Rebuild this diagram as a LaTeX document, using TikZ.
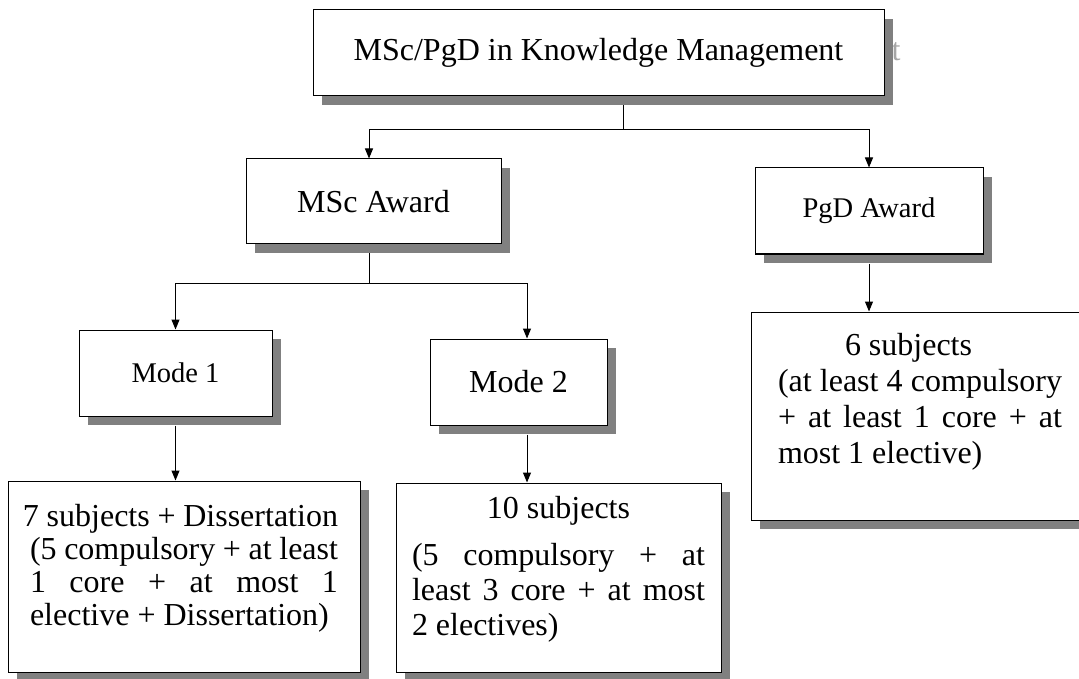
\documentclass[tikz,border=0pt]{standalone}
\usepackage{fontspec}
\setmainfont{Liberation Serif}
\usepackage{tikz}
\usetikzlibrary{arrows.meta,shadows}

\definecolor{shadowgray}{HTML}{808080}
\definecolor{ghostgray}{HTML}{A6A6A6}

\begin{document}
\begin{tikzpicture}[x=1pt,y=-1pt,
  box/.style={draw=black,line width=1pt,fill=white,inner sep=0pt,
    drop shadow={shadow xshift=9pt,shadow yshift=-9pt,opacity=1,fill=shadowgray}},
  big/.style={font=\fontsize{32}{35}\selectfont},
  small/.style={font=\fontsize{28.5}{32}\selectfont},
  link/.style={line width=1pt},
  arr/.style={link,-{Triangle[length=10pt,width=8pt]}}]
\useasboundingbox (0,0) rectangle (1079,679);

% stray letter behind the title box
\node[big,text=ghostgray,inner sep=0pt] (ghost) at (896,52) {t};

% Programme
\node[box,big,minimum width=571,minimum height=86] (title) at (598.5,53) {MSc/PgD in Knowledge Management};

% Awards
\node[box,big,minimum width=255,minimum height=85] (msc) at (373.5,201.5) {MSc Award};
\node[box,small,minimum width=228,minimum height=86] (pgd) at (869,211) {PgD Award};

% Modes of the MSc
\node[box,small,minimum width=193,minimum height=86] (mode1) at (175.5,373) {Mode 1};
\node[box,big,minimum width=177,minimum height=86] (mode2) at (518.5,382) {Mode 2};

% Subjects
\node[box,font=\fontsize{32}{33}\selectfont,minimum width=352] (subj7) at (184,576.5)
  {\parbox[c][191pt][t]{308pt}{\vspace*{22.5pt}%
   \hspace*{-7pt}\strut 7 subjects + Dissertation\\
   \makebox[\linewidth][s]{(5 compulsory + at least}\\
   \makebox[\linewidth][s]{1 core + at most 1}\\
   elective + Dissertation)}};
\node[box,big,minimum width=325] (subj10) at (558.5,577.5)
  {\parbox[c][189pt][t]{293pt}{\vspace*{10.5pt}%
   \makebox[\linewidth][c]{\strut 10 subjects}\\[12pt]
   \makebox[\linewidth][s]{(5 compulsory + at}\\
   \makebox[\linewidth][s]{least 3 core + at most}\\
   2 electives)}};
\node[box,font=\fontsize{32}{36}\selectfont,minimum width=338] (subj6) at (920,416)
  {\parbox[c][208pt][t]{284pt}{\vspace*{18.5pt}%
   \hspace*{67pt}\strut 6 subjects\\
   \makebox[\linewidth][s]{(at least 4 compulsory}\\
   \makebox[\linewidth][s]{+ at least 1 core + at}\\
   most 1 elective)}};

% Connectors
\coordinate (split1) at (623,130);
\coordinate (split2) at (369,283);
\draw[link] ([yshift=-9pt]title.south -| split1) -- (split1);
\draw[arr] (split1) -| ([xshift=-4.5pt]msc.north);
\draw[arr] (split1) -| (pgd.north);
\draw[link] ([yshift=-9pt]msc.south -| split2) -- (split2);
\draw[arr] (split2) -| (mode1.north);
\draw[arr] (split2) -| ([xshift=8.5pt]mode2.north);
\draw[arr] ([yshift=-9pt]mode1.south) -- (mode1.south |- subj7.north);
\draw[arr] ([xshift=8.5pt,yshift=-9pt]mode2.south) -- ([xshift=8.5pt]mode2.south |- subj10.north);
\draw[arr] ([yshift=-9pt]pgd.south) -- (pgd.south |- subj6.north);
\end{tikzpicture}
\end{document}
